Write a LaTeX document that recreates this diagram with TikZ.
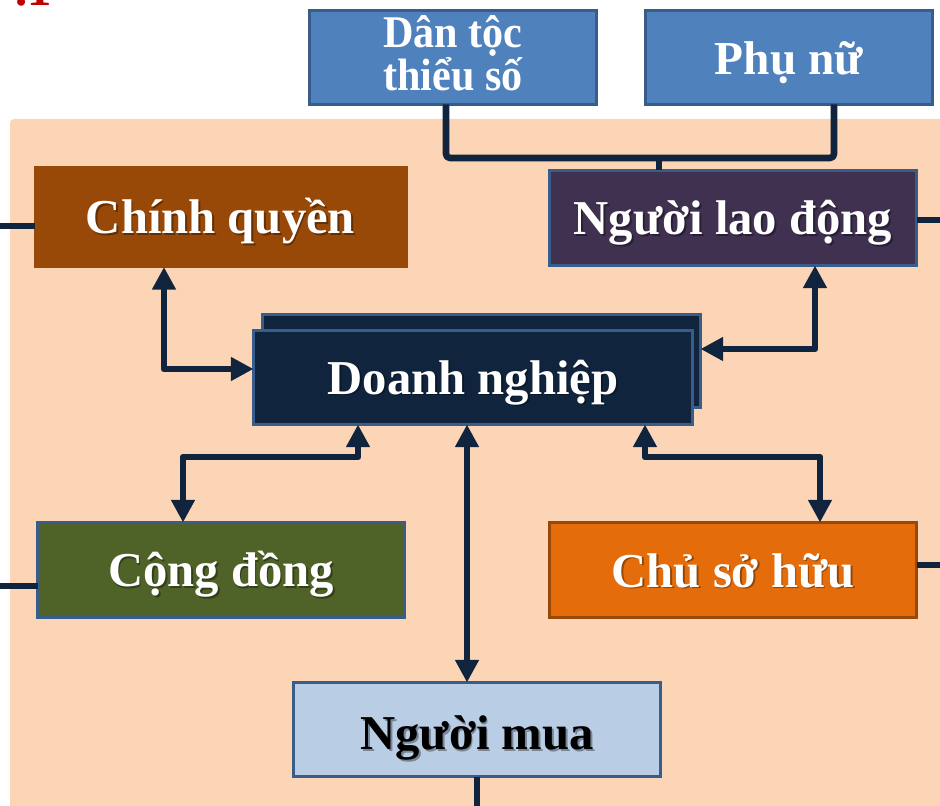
\documentclass[tikz,border=0pt]{standalone}
\usepackage{fontspec}
\setmainfont{Liberation Serif}
\newfontfamily\narrowfont[FakeStretch=0.93]{Liberation Serif}
\usetikzlibrary{arrows.meta,calc}

\definecolor{peach}{HTML}{FBD5B5}
\definecolor{steel}{HTML}{4F81BD}
\definecolor{steeledge}{HTML}{385D8A}
\definecolor{rust}{HTML}{984807}
\definecolor{plum}{HTML}{403151}
\definecolor{navy}{HTML}{10243E}
\definecolor{olive}{HTML}{4F6228}
\definecolor{tangerine}{HTML}{E46C0A}
\definecolor{paleblue}{HTML}{B9CDE5}
\definecolor{titlered}{HTML}{C00000}

\tikzset{
  box/.style 2 args={draw=steeledge, line width=2.25pt, inner sep=0pt, outer sep=0pt,
    minimum width=#1*0.75pt, minimum height=#2*0.75pt},
  link/.style={draw=navy, line width=5pt, line join=round},
  twoway/.style={link, {Triangle[width=17pt,length=17pt]}-{Triangle[width=17pt,length=17pt]}},
  txtshadow/.style={text=black, text opacity=0.35, inner sep=0pt, anchor=base},
  txt/.style={inner sep=0pt, anchor=base, align=center},
  mainfont/.style={font=\bfseries\fontsize{36.5}{40}\selectfont},
}

% shadowed label inside a box: node, text, colour, baseline offset
\newcommand\boxlabel[4]{%
  \node[txtshadow, mainfont] at ($(#1)+(1.8,#4+1.8)$) {#2};
  \node[txt, mainfont, text=#3] at ($(#1)+(0,#4)$) {#2};}

\begin{document}
\begin{tikzpicture}[x=0.75pt,y=-0.75pt]
\useasboundingbox (0,0) rectangle (940,806);

% heading fragment along the top edge
\node[anchor=base west, inner sep=0pt, text=titlered, font=\bfseries\fontsize{36.5}{40}\selectfont] (head) at (15,6) {.1};

% shaded panel
\fill[peach, rounded corners=3pt] (10,119) rectangle (960,830);

% upper groups (base anchor sits on the last line)
\node[box={287}{94}, fill=steel] (dt) at (453,57.5) {};
\node[box={287}{94}, fill=steel] (pn) at (789,57.5) {};
\node[txt, text=white, font=\narrowfont\bfseries\fontsize{34}{30}\selectfont] (dtl) at ($(dt)+(0,33)$) {Dân tộc\\thiểu số};
\node[txt, text=white, font=\bfseries\fontsize{35.5}{40}\selectfont] (pnl) at ($(pn)+(0,17.5)$) {Phụ nữ};

% stakeholders
\node[box={371}{99}, fill=rust, draw=rust] (cq) at (220.5,217.5) {};
\node[box={367}{95}, fill=plum] (nld) at (733,218) {};
\node[box={438}{93}, fill=navy] (dnb) at (481.5,361) {};
\node[box={439}{94}, fill=navy] (dn) at (473,377.5) {};
\node[box={367}{95}, fill=olive] (cd) at (221,570) {};
\node[box={367}{95}, fill=tangerine, draw=rust] (csh) at (733,570) {};
\node[box={367}{94}, fill=paleblue] (nm) at (477,729.5) {};

\boxlabel{cq}{Chính quyền}{white}{16.5}
\boxlabel{nld}{Người lao động}{white}{17}
\boxlabel{dn}{Doanh nghiệp}{white}{16.5}
\boxlabel{cd}{Cộng đồng}{white}{16.5}
\boxlabel{csh}{Chủ sở hữu}{white}{17}
\boxlabel{nm}{Người mua}{black}{20}

% bracket joining the two upper groups to the workers
\coordinate (b1) at (446,158);
\coordinate (b2) at (834,158);
\coordinate (b3) at (659,158);
\draw[link, rounded corners=3pt] (b1 |- dt.south) -- (b1) -- (b2) -- (b2 |- pn.south);
\draw[link] (b3) -- (b3 |- nld.north);

% two-way links to the enterprise
\coordinate (k1) at (164,369);
\draw[twoway] (k1 |- cq.south) -- (k1) -- (k1 -| dn.west);
\coordinate (k2) at (815,349);
\draw[twoway] (k2 |- nld.south) -- (k2) -- (k2 -| dnb.east);
\coordinate (k3) at (358,457);
\coordinate (k4) at (183,457);
\draw[twoway] (k3 |- dn.south) -- (k3) -- (k4) -- (k4 |- cd.north);
\coordinate (k5) at (645,457);
\coordinate (k6) at (820,457);
\draw[twoway] (k5 |- dn.south) -- (k5) -- (k6) -- (k6 |- csh.north);
\coordinate (k7) at (467,500);
\draw[twoway] (k7 |- dn.south) -- (k7 |- nm.north);

% lines running off the edges
\coordinate (e1) at (0,226);
\draw[link] (e1) -- (e1 -| cq.west);
\coordinate (e2) at (940,220);
\draw[link] (nld.east |- e2) -- (e2);
\coordinate (e3) at (0,586);
\draw[link] (e3) -- (e3 -| cd.west);
\coordinate (e4) at (940,565);
\draw[link] (csh.east |- e4) -- (e4);
\coordinate (e5) at (477,806);
\draw[link] (e5 |- nm.south) -- (e5);
\end{tikzpicture}
\end{document}
